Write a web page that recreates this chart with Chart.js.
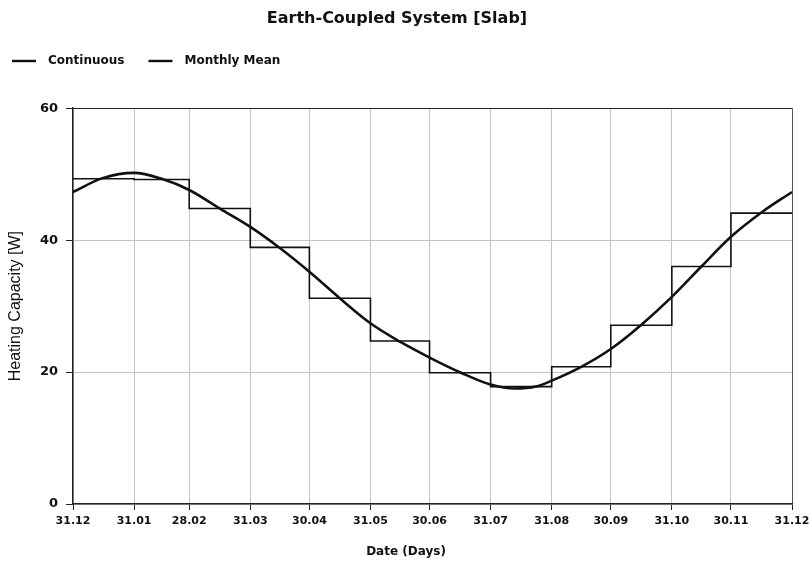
<!DOCTYPE html>
<html>
<head>
<meta charset="utf-8">
<script src="https://cdn.jsdelivr.net/npm/chart.js@4"></script>
<style>
  html, body { margin: 0; padding: 0; background: #fff; }
  #wrap { width: 812px; height: 562px; }
</style>
</head>
<body>
<div id="wrap"><canvas id="chart" width="812" height="562"></canvas></div>
<script>
// month boundaries (day of year) and their labels
const monthDays = [0, 31, 59, 90, 120, 151, 181, 212, 243, 273, 304, 334, 365];
const monthLabels = ["31.12", "31.01", "28.02", "31.03", "30.04", "31.05", "30.06",
  "31.07", "31.08", "30.09", "31.10", "30.11", "31.12"];

// monthly mean heating capacity [W], one value per interval
const monthlyMean = [49.3, 49.2, 44.8, 38.9, 31.2, 24.7, 19.9, 17.8, 20.8, 27.1, 36.0, 44.1];

// continuous curve
const contDays = [0, 15, 31, 45, 59, 75, 90, 105, 120, 135, 151, 166, 181, 197, 212,
  224, 235, 243, 258, 273, 289, 304, 319, 334, 350, 365];
const contValues = [47.3, 49.4, 50.2, 49.3, 47.6, 44.7, 42.0, 38.8, 35.2, 31.3, 27.4, 24.6,
  22.2, 19.9, 18.1, 17.5, 17.8, 18.7, 20.8, 23.5, 27.3, 31.4, 36.0, 40.5, 44.3, 47.3];

const yTicks = [0, 20, 40, 60];

const FONT = "'DejaVu Sans', sans-serif";

const stepPoints = monthlyMean.map((v, i) => ({ x: monthDays[i], y: v }));
stepPoints.push({ x: monthDays[monthDays.length - 1], y: monthlyMean[monthlyMean.length - 1] });
const contPoints = contDays.map((d, i) => ({ x: d, y: contValues[i] }));

// legend in the top-left corner + x axis title centred on the canvas
const decorPlugin = {
  id: "decor",
  afterDraw(chart) {
    const g = chart.ctx;
    g.save();
    g.fillStyle = "#111";
    g.strokeStyle = "#111";
    g.font = "bold 12px " + FONT;
    g.textBaseline = "middle";

    let x = 12;
    const y = 61;
    chart.data.datasets.forEach((ds) => {
      g.lineWidth = 2.4;
      g.beginPath();
      g.moveTo(x, y);
      g.lineTo(x + 24, y);
      g.stroke();
      g.textAlign = "left";
      g.fillText(ds.label, x + 36, y);
      x += 36 + g.measureText(ds.label).width + 24;
    });

    g.textAlign = "center";
    g.fillText("Date (Days)", chart.width / 2, 552);
    g.restore();
  },
};

const ctx = document.getElementById("chart").getContext("2d");

new Chart(ctx, {
  type: "line",
  data: {
    datasets: [
      {
        label: "Continuous",
        data: stepPoints,
        borderColor: "#111",
        borderWidth: 1.6,
        stepped: true,
        pointRadius: 0,
        fill: false,
      },
      {
        label: "Monthly Mean",
        data: contPoints,
        borderColor: "#111",
        borderWidth: 2.6,
        cubicInterpolationMode: "monotone",
        pointRadius: 0,
        fill: false,
      },
    ],
  },
  plugins: [decorPlugin],
  options: {
    responsive: false,
    animation: false,
    layout: { padding: { left: 2, right: 20, top: 2, bottom: 4 } },
    plugins: {
      title: {
        display: true,
        text: "Earth-Coupled System [Slab]",
        color: "#111",
        font: { family: FONT, size: 16, weight: "bold" },
        padding: { top: 7, bottom: 10 },
      },
      // empty spacer that leaves room for the legend above the plot
      subtitle: {
        display: true,
        text: " ",
        font: { size: 10 },
        padding: { top: 0, bottom: 58 },
      },
      legend: { display: false },
      tooltip: { enabled: false },
    },
    scales: {
      x: {
        type: "linear",
        min: 0,
        max: 365,
        afterBuildTicks: (axis) => {
          axis.ticks = monthDays.map((d) => ({ value: d }));
        },
        afterFit: (scale) => {
          scale.height = 54;
          scale.paddingRight = 0;
        },
        ticks: {
          color: "#111",
          autoSkip: false,
          maxRotation: 0,
          padding: 5,
          font: { family: FONT, size: 11, weight: "bold" },
          callback: (value, i) => monthLabels[i],
        },
        grid: {
          color: (c) => (c.index === monthDays.length - 1 ? "#555" : "#c4c4c4"),
          tickColor: "#222",
          tickLength: 6,
          lineWidth: 1,
        },
        border: { color: "#222", width: 1.5 },
      },
      y: {
        min: 0,
        max: 60,
        afterBuildTicks: (axis) => {
          axis.ticks = yTicks.map((v) => ({ value: v }));
        },
        afterFit: (scale) => {
          scale.width = 71;
        },
        ticks: {
          color: "#111",
          padding: 8,
          font: { family: FONT, size: 13, weight: "bold" },
        },
        grid: {
          color: (c) => (c.tick && c.tick.value === 60 ? "#222" : "#c4c4c4"),
          tickColor: "#222",
          tickLength: 7,
          lineWidth: 1,
        },
        border: { color: "#222", width: 1.5 },
        title: {
          display: true,
          text: "Heating Capacity [W]",
          color: "#111",
          font: { family: "'Liberation Sans', Arial, sans-serif", size: 16 },
          padding: { top: 4, bottom: 6 },
        },
      },
    },
  },
});
</script>
</body>
</html>
